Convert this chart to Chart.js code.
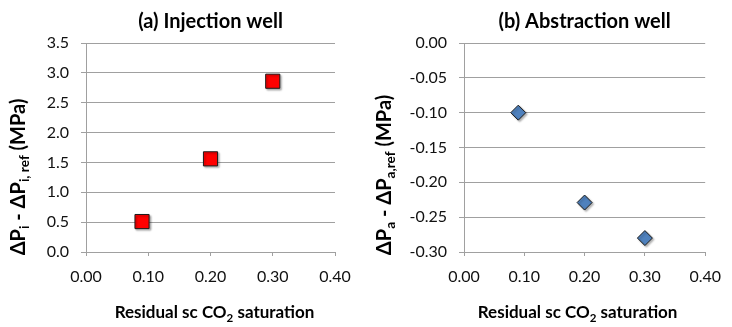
<!DOCTYPE html>
<html>
<head>
<meta charset="utf-8">
<script src="https://cdn.jsdelivr.net/npm/chart.js@4/dist/chart.umd.min.js"></script>
<style>
  body { margin: 0; background: #fff; }
  .panel { position: absolute; top: 0; width: 366px; height: 327px; }
</style>
</head>
<body>
<div class="panel" style="left:0"><canvas id="injection" width="366" height="327"></canvas></div>
<div class="panel" style="left:366px"><canvas id="abstraction" width="366" height="327"></canvas></div>
<script>
// residual supercritical CO2 saturation (x) for both wells
const saturation = [0.09, 0.20, 0.30];
const injectionDp = [0.51, 1.56, 2.86];
const abstractionDp = [-0.10, -0.229, -0.28];

const xRange = [0, 0.4, 0.1];
const injectionRange = [0, 3.5, 0.5];
const abstractionRange = [-0.3, 0, 0.05];

// [text, isSubscript]
const injectionTitle = '(a) Injection well';
const abstractionTitle = '(b) Abstraction well';
const injectionYTitle = [['ΔP', 0], ['i', 1], [' - ΔP', 0], ['i, ref', 1], [' (MPa)', 0]];
const abstractionYTitle = [['ΔP', 0], ['a', 1], [' - ΔP', 0], ['a,ref', 1], [' (MPa)', 0]];
const xTitle = [['Residual sc CO', 0], ['2', 1], [' saturation', 0]];

const FONT = 'Lato, "DejaVu Sans", sans-serif';
const GRID = '#a0a0a0';

function richText(ctx, parts, size) {
  const font = s => 'bold ' + s + 'px ' + FONT;
  let total = 0;
  const widths = parts.map(([t, sub]) => {
    ctx.font = font(sub ? size * 0.68 : size);
    const w = ctx.measureText(t).width;
    total += w;
    return w;
  });
  let x = -total / 2;
  parts.forEach(([t, sub], i) => {
    ctx.font = font(sub ? size * 0.68 : size);
    ctx.fillText(t, x, sub ? size * 0.3 : 0);
    x += widths[i];
  });
}

const labelsPlugin = {
  id: 'labels',
  beforeDatasetsDraw(chart) {
    const ctx = chart.ctx;
    ctx.save();
    ctx.shadowColor = 'rgba(0,0,0,0.3)';
    ctx.shadowOffsetX = 1.5;
    ctx.shadowOffsetY = 1.5;
    ctx.shadowBlur = 2;
  },
  afterDatasetsDraw(chart) {
    chart.ctx.restore();
  },
  afterDraw(chart, args, opts) {
    const ctx = chart.ctx;
    const a = chart.chartArea;
    ctx.save();
    ctx.fillStyle = '#000';
    ctx.textBaseline = 'middle';
    ctx.textAlign = 'left';

    ctx.save();
    ctx.translate((a.left + a.right) / 2, 22);
    richText(ctx, [[opts.title, 0]], 20);
    ctx.restore();

    ctx.save();
    ctx.translate(19, opts.yTitleCenter);
    ctx.rotate(-Math.PI / 2);
    richText(ctx, opts.yTitle, 20);
    ctx.restore();

    ctx.save();
    ctx.translate((a.left + a.right) / 2 + opts.xTitleShift, 313);
    richText(ctx, xTitle, 17);
    ctx.restore();

    ctx.restore();
  }
};

function makeChart(id, values, yRange, decimals, marker, leftWidth, rightPad, labels) {
  return new Chart(document.getElementById(id), {
    type: 'scatter',
    data: {
      datasets: [{
        data: saturation.map((x, i) => ({ x: x, y: values[i] })),
        pointStyle: marker.style,
        pointRadius: marker.radius,
        backgroundColor: marker.color,
        borderColor: '#1a1a1a',
        borderWidth: 1
      }]
    },
    options: {
      responsive: false,
      animation: false,
      layout: { padding: { top: 43, right: rightPad, left: 0, bottom: 0 } },
      plugins: {
        legend: { display: false },
        tooltip: { enabled: false },
        labels: labels
      },
      scales: {
        x: {
          type: 'linear',
          min: xRange[0],
          max: xRange[1],
          ticks: {
            stepSize: xRange[2],
            padding: 11,
            color: '#111',
            font: { family: FONT, size: 16 },
            callback: v => v.toFixed(2)
          },
          grid: { drawOnChartArea: false, tickLength: 4, color: GRID },
          border: { color: GRID },
          afterFit: s => { s.height = 75; }
        },
        y: {
          min: yRange[0],
          max: yRange[1],
          ticks: {
            stepSize: yRange[2],
            padding: 12,
            color: '#111',
            font: { family: FONT, size: 16 },
            callback: v => (Math.abs(v) < 1e-9 ? 0 : v).toFixed(decimals)
          },
          grid: { tickLength: 5, color: GRID },
          border: { color: GRID },
          afterFit: s => { s.width = leftWidth; }
        }
      }
    },
    plugins: [labelsPlugin]
  });
}

makeChart('injection', injectionDp, injectionRange, 1,
  { style: 'rect', radius: 10, color: '#ff0000' }, 86, 31,
  { title: injectionTitle, yTitle: injectionYTitle, yTitleCenter: 177, xTitleShift: 4 });

makeChart('abstraction', abstractionDp, abstractionRange, 2,
  { style: 'rectRot', radius: 7.5, color: '#4f81bd' }, 98, 17,
  { title: abstractionTitle, yTitle: abstractionYTitle, yTitleCenter: 175, xTitleShift: -7 });
</script>
</body>
</html>
